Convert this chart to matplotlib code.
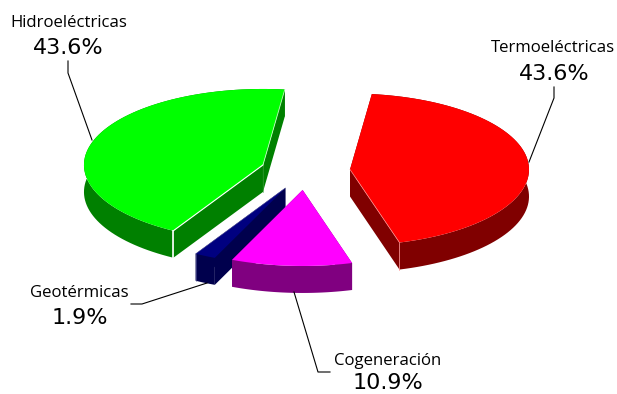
import numpy as np
import matplotlib
matplotlib.use('Agg')
import matplotlib.pyplot as plt

# slices clockwise from the start angle
names = ['Termoeléctricas', 'Cogeneración', 'Geotérmicas', 'Hidroeléctricas']
shares = [43.6, 10.9, 1.9, 43.6]
share_labels = ['43.6%', '10.9%', '1.9%', '43.6%']
top_colors = ['#ff0000', '#ff00ff', '#000080', '#00ff00']
side_colors = ['#800000', '#800080', '#00004d', '#008000']
edge_colors = ['#ff9090', '#ff00ff', '#6060a0', '#ffffff']

CX, CY = 305.4, 171
A, B = 179, 76
DEPTH = 27
EXPLODE = 0.25
START = 7


def point(angle, radius=1.0, ox=0.0, oy=0.0):
    t = np.radians(angle)
    return ox + A * radius * np.sin(t), oy - B * radius * np.cos(t)


def draw_slice(ax, a0, a1, top, side):
    """
    Draw one exploded slice: side walls first, then the top face over them.
    """
    ox, oy = point((a0 + a1) / 2, EXPLODE, CX, CY)
    angles = np.linspace(a0, a1, 80)
    xs, ys = point(angles, 1.0, ox, oy)

    # walls
    for wx, wy in ([[ox, xs[0]], [oy, ys[0]]], [[ox, xs[-1]], [oy, ys[-1]]], [xs, ys]):
        wx, wy = np.asarray(wx), np.asarray(wy)
        ax.fill(np.r_[wx, wx[::-1]], np.r_[wy, wy[::-1] + DEPTH], color=side, lw=0, zorder=1)

    ax.fill(np.r_[ox, xs], np.r_[oy, ys], color=top, lw=0, zorder=1)
    return ox, oy, xs, ys


fig = plt.figure(figsize=(6.17, 3.94), dpi=100)
ax = fig.add_axes([0, 0, 1, 1])
ax.set_xlim(0, 617)
ax.set_ylim(394, 0)
ax.axis('off')

# paint back slices first so magenta sits over the blue wall
bounds = START + np.r_[0, np.cumsum(shares)] * 3.6
for i in [3, 0, 2, 1]:
    ox, oy, xs, ys = draw_slice(ax, bounds[i], bounds[i + 1], top_colors[i], side_colors[i])
    if i in (0, 2, 3):
        # light seams on the front corner and radial edge
        k = 0 if i == 3 else -1
        seam = 0.4 if i == 2 else 0.8 if i == 3 else 0.5
        ax.plot([ox, xs[k]], [oy, ys[k]], color=edge_colors[i], lw=seam, zorder=1)
        ax.plot([xs[k], xs[k]], [ys[k], ys[k] + DEPTH], color=edge_colors[i], lw=1.2 if i == 3 else seam, zorder=1)
    if i == 3:
        ax.plot([ox, xs[-1]], [oy, ys[-1]], color='#c0ffc0', lw=0.6, zorder=1)
        ax.plot([ox, ox], [oy, oy + DEPTH], color='#40a040', lw=0.4, zorder=1)

# leader lines
leaders = [
    ([554, 554, 529], [87, 98, 162]),
    ([294, 318, 330], [292, 372, 372]),
    ([131, 142, 207], [304, 304, 283]),
    ([68, 68, 92], [61, 73, 140]),
]
for lx, ly in leaders:
    ax.plot(lx, ly, color='black', lw=0.8, zorder=2)

name_pos = [(553, 52), (388, 365), (79, 297), (69, 27)]
share_pos = [(554, 80), (387.5, 389), (79.5, 324), (68, 54)]
for i in range(len(names)):
    ax.text(name_pos[i][0], name_pos[i][1], names[i], ha='center', va='baseline',
            fontsize=12.1, family=['Open Sans', 'DejaVu Sans'], color='black')
    ax.text(share_pos[i][0], share_pos[i][1], share_labels[i], ha='center', va='baseline',
            fontsize=16, family='DejaVu Sans', color='black')

fig.savefig('out.png', dpi=100)
